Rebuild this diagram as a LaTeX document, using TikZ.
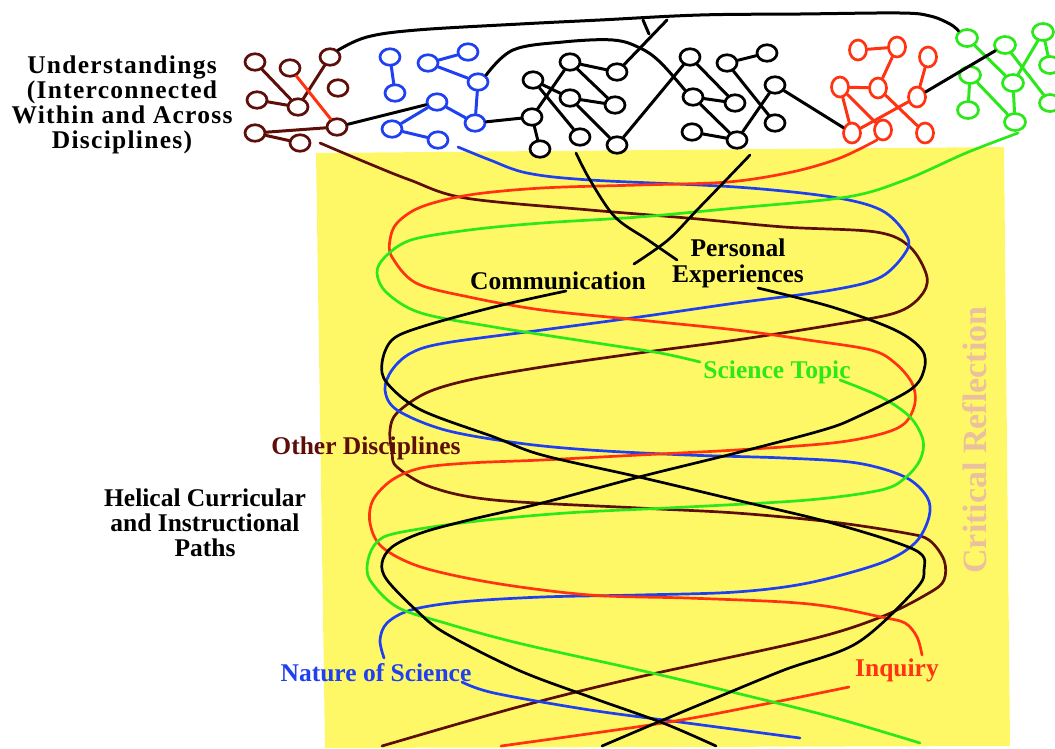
\documentclass[tikz,border=0pt]{standalone}
\usepackage{fontspec}
\setmainfont{Liberation Serif}
\usetikzlibrary{shapes.geometric}
\definecolor{discBrown}{HTML}{5E0E08}
\definecolor{nosBlue}{HTML}{1E40F0}
\definecolor{inqRed}{HTML}{FF3311}
\definecolor{topicGreen}{HTML}{2BE81A}
\definecolor{paleYellow}{HTML}{FFF866}
\definecolor{reflectTan}{HTML}{EBC09C}
\tikzset{
  idea/.style={ellipse, draw, fill=white, line width=2.7pt, minimum width=20pt,
               minimum height=16.5pt, inner sep=0pt},
  brownidea/.style={idea, draw=discBrown},
  blueidea/.style={idea, draw=nosBlue},
  blackidea/.style={idea, draw=black},
  redidea/.style={idea, draw=inqRed, minimum width=17pt, minimum height=20pt},
  greenidea/.style={idea, draw=topicGreen, minimum width=21pt, minimum height=17pt},
  link/.style={line width=3pt, line cap=round},
  helix/.style={line width=2.7pt, line cap=round, line join=round},
  banner/.style={font=\bfseries\fontsize{25.5}{25}\selectfont, align=center, inner sep=0pt}
}
\begin{document}
\begin{tikzpicture}[x=1pt, y=-1pt]
\useasboundingbox (0,0) rectangle (1055,748);
\fill[paleYellow] (316,153) -- (1004,147) -- (1010,746) -- (325,748) -- cycle;

\node[brownidea] (od1) at (255,62) {};
\node[brownidea] (od2) at (290,68) {};
\node[brownidea] (od3) at (330,57) {};
\node[brownidea] (od4) at (257,100) {};
\node[brownidea] (od5) at (298,107) {};
\node[brownidea] (od6) at (338,88) {};
\node[brownidea] (od7) at (255,133) {};
\node[brownidea] (od8) at (300,143) {};
\node[brownidea] (od9) at (337,127) {};

\node[blueidea] (ns1) at (390,57) {};
\node[blueidea] (ns2) at (395,93) {};
\node[blueidea] (ns3) at (428,63) {};
\node[blueidea] (ns4) at (468,52) {};
\node[blueidea] (ns5) at (478,82) {};
\node[blueidea] (ns6) at (437,102) {};
\node[blueidea] (ns7) at (392,129) {};
\node[blueidea] (ns8) at (438,140) {};
\node[blueidea] (ns9) at (475,123) {};

\node[blackidea] (cm1) at (533,80) {};
\node[blackidea] (cm2) at (570,62) {};
\node[blackidea] (cm3) at (617,72) {};
\node[blackidea] (cm4) at (570,98) {};
\node[blackidea] (cm5) at (615,105) {};
\node[blackidea] (cm6) at (532,117) {};
\node[blackidea] (cm7) at (540,149) {};
\node[blackidea] (cm8) at (580,137) {};
\node[blackidea] (cm9) at (617,145) {};
\node[blackidea] (cm10) at (690,57) {};
\node[blackidea] (cm11) at (727,63) {};
\node[blackidea] (cm12) at (767,53) {};
\node[blackidea] (cm13) at (693,97) {};
\node[blackidea] (cm14) at (735,103) {};
\node[blackidea] (cm15) at (775,85) {};
\node[blackidea] (cm16) at (692,132) {};
\node[blackidea] (cm17) at (737,140) {};
\node[blackidea] (cm18) at (775,123) {};

\node[redidea] (iq1) at (858,50) {};
\node[redidea] (iq2) at (897,47) {};
\node[redidea] (iq3) at (928,57) {};
\node[redidea] (iq4) at (840,87) {};
\node[redidea] (iq5) at (878,88) {};
\node[redidea] (iq6) at (917,97) {};
\node[redidea] (iq7) at (852,133) {};
\node[redidea] (iq8) at (883,130) {};
\node[redidea] (iq9) at (925,133) {};

\node[greenidea] (st1) at (967,38) {};
\node[greenidea] (st2) at (1005,45) {};
\node[greenidea] (st3) at (1043,32) {};
\node[greenidea] (st4) at (970,75) {};
\node[greenidea] (st5) at (1013,83) {};
\node[greenidea] (st6) at (1050,65) {};
\node[greenidea] (st7) at (968,110) {};
\node[greenidea] (st8) at (1015,122) {};
\node[greenidea] (st9) at (1050,103) {};

\draw[link, discBrown] (od1) -- (od5);
\draw[link, discBrown] (od4) -- (od5);
\draw[link, discBrown] (od5) -- (od3);
\draw[link, discBrown] (od7) -- (od9);
\draw[link, discBrown] (od7) -- (od8);
\draw[link, inqRed] (od2) -- (od9);

\draw[link, nosBlue] (ns1) -- (ns2);
\draw[link, nosBlue] (ns3) -- (ns4);
\draw[link, nosBlue] (ns3) -- (ns5);
\draw[link, nosBlue] (ns5) -- (ns9);
\draw[link, nosBlue] (ns6) -- (ns9);
\draw[link, nosBlue] (ns6) -- (ns7);
\draw[link, nosBlue] (ns7) -- (ns8);

\draw[link] (cm1) -- (cm4);
\draw[link] (cm1) -- (cm8);
\draw[link] (cm2) -- (cm3);
\draw[link] (cm2) -- (cm5);
\draw[link] (cm2) -- (cm6);
\draw[link] (cm4) -- (cm5);
\draw[link] (cm4) -- (cm9);
\draw[link] (cm6) -- (cm7);
\draw[link] (cm9) -- (cm10);
\draw[link] (cm10) -- (cm14);
\draw[link] (cm13) -- (cm14);
\draw[link] (cm13) -- (cm17);
\draw[link] (cm16) -- (cm17);
\draw[link] (cm11) -- (cm12);
\draw[link] (cm11) -- (cm18);
\draw[link] (cm17) -- (cm15);

\draw[link, inqRed] (iq1) -- (iq2);
\draw[link, inqRed] (iq2) -- (iq5);
\draw[link, inqRed] (iq3) -- (iq6);
\draw[link, inqRed] (iq4) -- (iq5);
\draw[link, inqRed] (iq4) -- (iq7);
\draw[link, inqRed] (iq4) -- (iq8);
\draw[link, inqRed] (iq5) -- (iq9);
\draw[link, inqRed] (iq7) -- (iq6);

\draw[link, topicGreen] (st1) -- (st5);
\draw[link, topicGreen] (st2) -- (st9);
\draw[link, topicGreen] (st3) -- (st5);
\draw[link, topicGreen] (st3) -- (st6);
\draw[link, topicGreen] (st4) -- (st7);
\draw[link, topicGreen] (st4) -- (st8);
\draw[link, topicGreen] (st5) -- (st8);

\draw[link] (od9) -- (ns6);
\draw[link] (ns9) -- (cm6);
\draw[link] (cm15) -- (iq7);
\draw[link] (iq6) -- (st2);
\draw[link] plot[smooth, tension=0.6] coordinates {(od3.north east) (367,37) (417,30) (520,24) (600,20) (700,15) (800,14) (900,13) (930,16) (950,24) (st1.north west)};
\draw[link] plot[smooth, tension=0.6] coordinates {(ns5.north east) (513,50) (563,42) (613,40) (640,48) (660,62) (cm13.north west)};
\coordinate (notch) at (667,20);
\draw[link] (cm3) -- (notch);
\draw[link] (643,20) -- (649,34);

\draw[helix, discBrown] plot[smooth, tension=0.55] coordinates {(320,143) (365,162) (410,180) (465,198) (590,210) (687,218) (784,227) (876,232) (910,247) (927,277) (920,297) (895,313) (832,325) (736,340) (639,353) (542,367) (469,380) (426,393) (397,413) (390,430) (392,453) (397,467) (431,487) (494,500) (639,508) (736,513) (832,522) (905,533) (929,540) (944,560) (944,580) (929,593) (881,617) (808,640) (639,677) (518,707) (382,746)};
\draw[helix, nosBlue] plot[smooth, tension=0.55] coordinates {(458,147) (490,160) (527,173) (590,180) (736,187) (832,197) (881,210) (905,233) (907,250) (881,277) (832,290) (736,303) (639,317) (542,330) (445,343) (411,353) (392,370) (385,390) (397,410) (445,430) (518,443) (590,450) (687,455) (784,458) (857,463) (905,477) (927,497) (929,517) (915,543) (881,563) (808,583) (736,592) (639,595) (542,597) (460,602) (411,610) (387,623) (380,640) (384,658)};
\draw[helix, nosBlue] plot[smooth, tension=0.55] coordinates {(462,682) (494,693) (590,710) (687,723) (800,738)};
\draw[helix, inqRed] plot[smooth, tension=0.55] coordinates {(877,140) (840,158) (792,172) (728,182) (639,185) (542,188) (469,195) (421,207) (397,223) (390,240) (392,257) (416,283) (469,297) (542,310) (639,320) (736,330) (808,340) (871,350) (895,363) (912,383) (915,403) (905,423) (881,434) (832,443) (736,450) (639,455) (542,460) (469,463) (421,468) (392,480) (373,500) (370,523) (382,547) (421,567) (494,583) (590,595) (687,598) (784,602) (832,607) (881,617) (905,623) (917,637) (922,655)};
\draw[helix, inqRed] plot[smooth, tension=0.55] coordinates {(849,687) (760,705) (663,723) (501,746)};
\draw[helix, topicGreen] plot[smooth, tension=0.55] coordinates {(1018,133) (966,153) (905,180) (847,197) (736,208) (639,217) (542,223) (469,230) (411,240) (385,257) (377,273) (387,293) (421,313) (494,327) (590,342) (660,353) (700,362)};
\draw[helix, topicGreen] plot[smooth, tension=0.55] coordinates {(840,380) (881,397) (910,417) (923,440) (920,460) (905,478) (881,490) (808,500) (687,507) (566,513) (469,522) (397,533) (377,542) (368,560) (370,580) (397,607) (445,623) (518,643) (639,670) (736,693) (832,717) (920,743)};
\draw[helix] plot[smooth, tension=0.55] coordinates {(576,153) (590,180) (615,217) (648,240) (677,260)};
\draw[helix] plot[smooth, tension=0.55] coordinates {(750,155) (726,180) (697,210) (668,240) (634,264)};
\draw[helix] plot[smooth, tension=0.55] coordinates {(566,291) (494,307) (421,327) (392,340) (382,363) (387,383) (421,410) (494,437) (542,455) (639,477) (736,500) (832,523) (915,550) (924,570) (915,590) (857,643) (784,670) (711,700) (663,720) (602,746)};
\draw[helix] plot[smooth, tension=0.55] coordinates {(758,288) (832,307) (895,330) (922,350) (924,370) (910,390) (857,417) (823,430) (736,453) (639,477) (542,503) (469,520) (421,533) (392,547) (382,563) (387,580) (416,610) (445,633) (518,670) (590,697) (663,723) (716,746)};

\node[banner, font=\bfseries\fontsize{25.5}{25}\selectfont\addfontfeatures{LetterSpace=5}] (understand) at (122,105) {Understandings\\(Interconnected\\Within and Across\\Disciplines)};
\node[banner] (helical) at (205,523) {Helical Curricular\\and Instructional\\Paths};
\node[banner] (comm) at (558,281) {Communication};
\node[banner, font=\bfseries\fontsize{25.5}{26}\selectfont] (personal) at (738,263) {Personal\\Experiences};
\node[banner, text=topicGreen] (topic) at (777,372) {Science Topic};
\node[banner, text=discBrown] (other) at (366,448) {Other Disciplines};
\node[banner, text=nosBlue] (nature) at (376,673) {Nature of Science};
\node[banner, text=inqRed] (inquiry) at (897,670) {Inquiry};
\node[banner, text=reflectTan, font=\bfseries\fontsize{34}{34}\selectfont, rotate=90] (reflect) at (975,440) {Critical Reflection};
\end{tikzpicture}
\end{document}
